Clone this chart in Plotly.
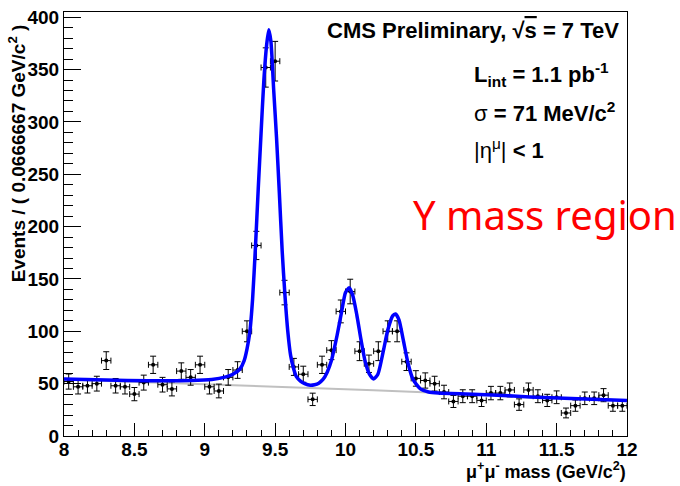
import numpy as np
import plotly.graph_objects as go

# ---------------- data ----------------
x_min, x_max, n_bins = 8.0, 12.0, 60
counts = [52, 47, 48, 50, 72, 48, 47, 40, 51, 68, 49, 45, 62, 56, 68, 47, 43, 56, 63, 100,
          182, 352, 358, 137, 66, 59, 35, 68, 82, 119, 138, 81, 69, 81, 100, 100, 71, 55, 53, 50,
          42, 33, 38, 38, 34, 41, 41, 44, 30, 44, 38, 34, 37, 22, 29, 36, 36, 39, 29, 29]

# fitted total model (blue)
fit_mass = [8.00, 8.30, 8.60, 8.90, 9.05, 9.15, 9.20, 9.25, 9.28, 9.30, 9.32, 9.34, 9.36, 9.38,
            9.40, 9.42, 9.44, 9.455, 9.47, 9.49, 9.51, 9.53, 9.55, 9.57, 9.59, 9.61, 9.63, 9.65,
            9.68, 9.71, 9.75, 9.78, 9.81, 9.84, 9.87, 9.90, 9.94, 9.97, 10.00, 10.025, 10.05,
            10.08, 10.11, 10.14, 10.17, 10.20, 10.23, 10.27, 10.30, 10.335, 10.355, 10.38, 10.41,
            10.445, 10.48, 10.53, 10.59, 10.66, 11.00, 11.31, 12.00]
fit_vals = [54.5, 53.5, 52.8, 53.0, 54.0, 56.5, 59.0, 64, 72, 83, 99, 131, 180, 236,
            289, 340, 374, 388, 377, 330, 285, 232, 177, 134, 100, 77, 65, 57,
            52.5, 50, 48.5, 49, 50.5, 54, 61, 72, 96, 117, 137, 141.5, 135,
            116, 92, 71, 59, 54.5, 59, 82, 101, 114.7, 116.5, 111, 92,
            69, 54, 45.2, 42, 41, 39.5, 37.3, 33.8]

# background component (grey)
bkg_mass = [8.0, 9.0, 9.6, 10.2, 10.7, 11.3, 12.0]
bkg_vals = [54.0, 49.8, 46.6, 43.6, 40.8, 37.3, 33.8]

x_ticks = [8, 8.5, 9, 9.5, 10, 10.5, 11, 11.5, 12]
y_ticks = [0, 50, 100, 150, 200, 250, 300, 350, 400]

# ---------------- derived ----------------
edges = np.linspace(x_min, x_max, n_bins + 1)
centers = 0.5 * (edges[:-1] + edges[1:])
half_w = 0.5 * (edges[1] - edges[0])
cnt = np.array(counts, dtype=float)
err = np.sqrt(cnt)

W, H = 680, 486
L, R, T, B = 64, 53, 7, 50
PW, PH = W - L - R, H - T - B


def px_x(px):
    return (px - L) / PW


def px_y(py):
    return (H - B - py) / PH


fig = go.Figure()
fig.add_trace(go.Scatter(x=bkg_mass, y=bkg_vals, mode="lines",
                         line=dict(color="#c0c0c0", width=2), hoverinfo="skip"))
fig.add_trace(go.Scatter(
    x=centers, y=cnt, mode="markers",
    marker=dict(color="black", size=4),
    error_y=dict(type="data", array=err, color="black", thickness=1, width=3),
    error_x=dict(type="data", array=[half_w] * n_bins, color="black", thickness=1, width=3),
))
fig.add_trace(go.Scatter(x=fit_mass, y=fit_vals, mode="lines",
                         line=dict(color="#0000ff", width=3.5, shape="spline", smoothing=0.6),
                         hoverinfo="skip"))

tickfont = dict(family="Liberation Sans, Arial, sans-serif", size=19, color="black", weight="bold")
fig.update_layout(
    width=W, height=H, autosize=False,
    margin=dict(l=L, r=R, t=T, b=B, pad=0),
    paper_bgcolor="white", plot_bgcolor="white",
    showlegend=False,
    xaxis=dict(range=[x_min, x_max], tickvals=x_ticks, ticktext=[f"{v:g}" for v in x_ticks],
               showline=True, linecolor="black", linewidth=1, mirror=True,
               ticks="inside", ticklen=13, tickwidth=1, tickcolor="black",
               minor=dict(ticks="inside", ticklen=6, dtick=0.1, tick0=8, tickcolor="black"),
               showgrid=False, zeroline=False, tickfont=tickfont, ticklabelstandoff=-4),
    yaxis=dict(range=[0, 405], tickvals=y_ticks, ticktext=[str(v) for v in y_ticks],
               showline=True, linecolor="black", linewidth=1, mirror=True,
               ticks="inside", ticklen=17, tickwidth=1, tickcolor="black",
               minor=dict(ticks="inside", ticklen=9, dtick=10, tick0=0, tickcolor="black"),
               showgrid=False, zeroline=False, tickfont=tickfont),
)

bold = dict(family="Liberation Sans, Arial, sans-serif", size=22, color="black")
ann = [
    dict(text="<b>CMS Preliminary, √<span style='text-decoration:overline'>s</span> = 7 TeV</b>",
         x=px_x(621), y=px_y(26), xanchor="right", yanchor="middle", font=bold),
    dict(text="<b>L<sub>int</sub> = 1.1 pb<sup>-1</sup></b>",
         x=px_x(472), y=px_y(70), xanchor="left", yanchor="middle", font=bold),
    dict(text="σ<b> = 71 MeV/c<sup>2</sup></b>",
         x=px_x(472), y=px_y(108), xanchor="left", yanchor="middle", font=bold),
    dict(text="|η<sup>μ</sup>|<b> &lt; 1</b>",
         x=px_x(472), y=px_y(146), xanchor="left", yanchor="middle", font=bold),
    dict(text="Y mass region",
         x=px_x(411), y=px_y(212), xanchor="left", yanchor="middle",
         font=dict(family="Noto Sans, DejaVu Sans, sans-serif", size=40, color="#ff0000")),
    dict(text="<b>Events / ( 0.0666667 GeV/c<sup>2</sup> )</b>", textangle=-90,
         x=px_x(17), y=px_y(150), xanchor="center", yanchor="middle",
         font=dict(family="Liberation Sans, Arial, sans-serif", size=19, color="black")),
    dict(text="<b>μ<sup>+</sup>μ<sup>-</sup> mass (GeV/c<sup>2</sup>)</b>",
         x=px_x(628), y=px_y(471), xanchor="right", yanchor="middle",
         font=dict(family="Liberation Sans, Arial, sans-serif", size=18, color="black")),
]
for a in ann:
    a.update(xref="paper", yref="paper", showarrow=False)
fig.update_layout(annotations=ann)

fig.write_html("out.html")
